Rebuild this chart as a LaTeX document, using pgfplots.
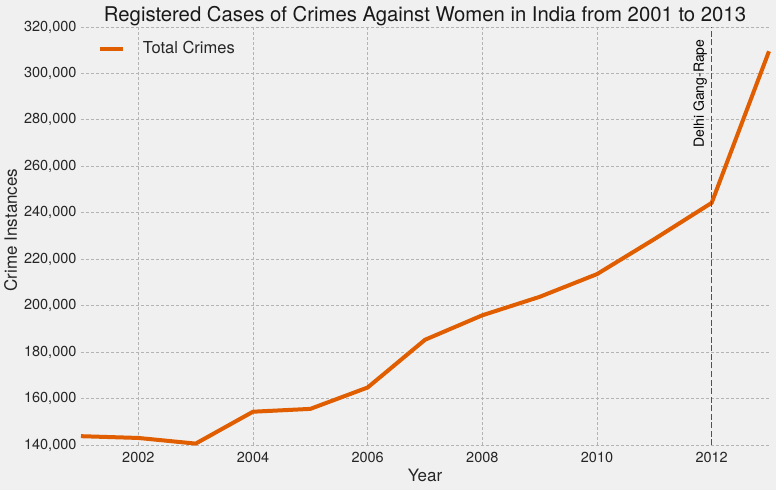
\documentclass[border=0pt]{standalone}
\usepackage{pgfplots}
\pgfplotsset{compat=1.18}
\usepackage{fontspec}
\setmainfont{TeX Gyre Heros}
\definecolor{bg}{HTML}{F0F0F0}
\definecolor{linec}{HTML}{E05D00}
\definecolor{gridc}{HTML}{B4B4B4}
\definecolor{vline}{RGB}{60,60,255}
\begin{document}
\begin{tikzpicture}[x=1pt,y=1pt]
\useasboundingbox (0,0) rectangle (776,490);
\fill[bg] (0,0) rectangle (776,490);
\begin{axis}[
  at={(81pt,45pt)}, anchor=south west,
  scale only axis, width=688pt, height=418pt,
  xmin=2001, xmax=2013, ymin=140000, ymax=320000,
  xtick={2002,2004,2006,2008,2010},
  xticklabels={2002,2004,2006,2008,2010},
  extra x ticks={2012}, extra x tick labels={2012},
  extra x tick style={grid=none},
  ytick={140000,160000,180000,200000,220000,240000,260000,280000,300000,320000},
  yticklabels={140{,}000,160{,}000,180{,}000,200{,}000,220{,}000,240{,}000,260{,}000,280{,}000,300{,}000,320{,}000},
  axis line style={draw=none},
  major tick length=0pt,
  grid=major,
  major grid style={gridc, dash pattern=on 3pt off 2pt, line width=0.8pt},
  xticklabel style={font=\fontsize{14.5}{16}\selectfont\color{black!85}, yshift=-4pt},
  yticklabel style={font=\fontsize{14.5}{16}\selectfont\color{black!85}, xshift=-1pt},
  scaled y ticks=false,
  xlabel={Year}, ylabel={Crime Instances},
  xlabel style={font=\fontsize{17}{19}\selectfont\color{black!85}, at={(0.5,0)}, anchor=base, yshift=-36pt},
  ylabel style={font=\fontsize{17}{19}\selectfont\color{black!85}, xshift=6pt},
  every axis title shift=0pt,
  title={Registered Cases of Crimes Against Women in India from 2001 to 2013},
  title style={font=\fontsize{20.3}{24}\selectfont\color{black!90}, at={(0.5,1)}, anchor=base, yshift=5pt},
  legend style={draw=none, fill=none, at={(0.02,0.975)}, anchor=north west, font=\fontsize{16.5}{18}\selectfont\color{black!85}, row sep=2pt},
  legend cell align=left,
  legend image code/.code={\draw[#1] (1pt,0pt) -- (24pt,0pt);},
  clip=false,
]
\addplot[draw=linec, line width=4pt, line join=round] coordinates {
(2001,143795) (2002,143034) (2003,140601) (2004,154333) (2005,155553)
(2006,164765) (2007,185312) (2008,195856) (2009,203804) (2010,213585)
(2011,228650) (2012,244270) (2013,309546)};
\addlegendentry{\hspace{16pt}Total Crimes}
\addplot[draw=vline, line width=1.1pt, dash pattern=on 6pt off 2.5pt, forget plot] coordinates {(2012,140000) (2012,320000)};
\node[rotate=90, anchor=west, inner sep=0pt, font=\fontsize{14}{16}\selectfont] at (axis cs:2011.8,268000) {Delhi Gang-Rape};
\end{axis}
\end{tikzpicture}
\end{document}
